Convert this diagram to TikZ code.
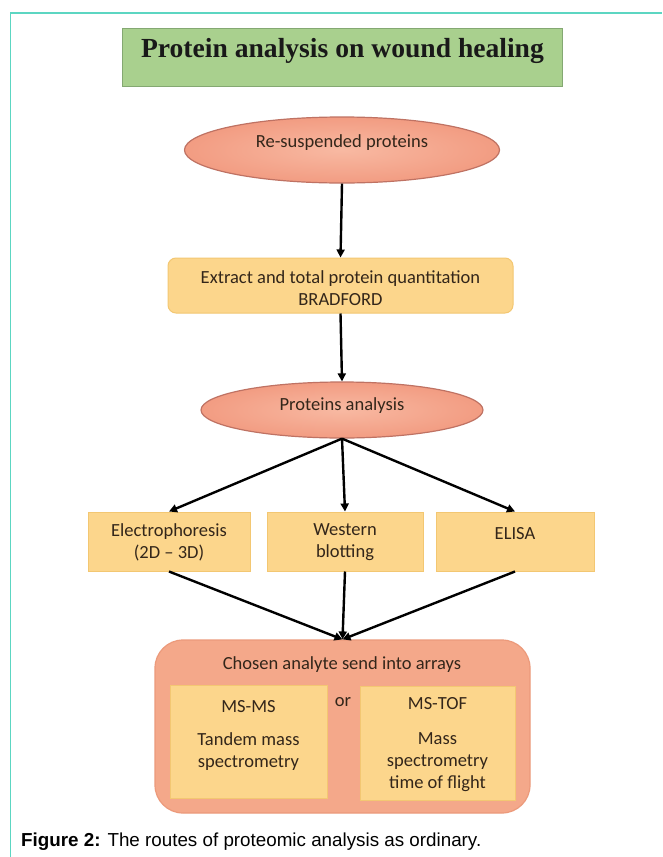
\documentclass[tikz,border=0pt]{standalone}
\usepackage{fontspec}
\setmainfont{Carlito}
\newfontfamily\titlefont{Liberation Serif}
\newfontfamily\capfont{Liberation Sans}
\usetikzlibrary{shapes.geometric,arrows.meta}
\definecolor{framecol}{HTML}{5CD6C2}
\definecolor{titlefill}{HTML}{A9D08E}
\definecolor{titledraw}{HTML}{84A872}
\definecolor{ellin}{HTML}{F8B9A2}
\definecolor{ellout}{HTML}{F29C82}
\definecolor{elldraw}{HTML}{BF7263}
\definecolor{boxfill}{HTML}{FCD68C}
\definecolor{boxdraw}{HTML}{F3C772}
\definecolor{bigfill}{HTML}{F4A88A}
\definecolor{bigdraw}{HTML}{EC9A7B}
\definecolor{txt}{HTML}{33261A}
\begin{document}
\begin{tikzpicture}[x=1pt,y=-1pt,
  btext/.style={font=\fontsize{18.5}{22}\selectfont, text=txt, align=center, inner sep=0pt},
  ellnode/.style={ellipse, draw=elldraw, line width=1.2pt, inner color=ellin, outer color=ellout, inner sep=0pt},
  boxnode/.style={rectangle, draw=boxdraw, line width=1pt, fill=boxfill, inner sep=0pt},
  arr/.style={line width=2.4pt, -{Triangle[length=8pt,width=8pt]}}
]
\useasboundingbox (0,0) rectangle (662,857);
\fill[white] (0,0) rectangle (662,857);
% frame
\draw[framecol, line width=1.5pt] (10.5,857) -- (10.5,13) -- (662,13);

% title
\node[rectangle, draw=titledraw, line width=1pt, fill=titlefill, minimum width=440pt, minimum height=58pt] (title) at (342.5,57) {};
\node[font=\titlefont\bfseries\fontsize{27.6}{32}\selectfont, text=black!90, inner sep=0pt, anchor=base] (titletext) at (342.5,57) {Protein analysis on wound healing};

% ellipse 1
\node[ellnode, minimum width=315pt, minimum height=66pt] (e1) at (342,150) {};
\node[btext] (e1text) at (342,143) {Re-suspended proteins};

% box 2
\node[boxnode, rounded corners=8pt, minimum width=345pt, minimum height=55pt] (b2) at (340.5,285.5) {};
\node[btext] (b2text) at (340.5,288) {Extract and total protein quantitation\\BRADFORD};

% ellipse 2
\node[ellnode, minimum width=282pt, minimum height=56pt] (e2) at (342,410) {};
\node[btext] (e2text) at (342,406) {Proteins analysis};

% three boxes
\node[boxnode, minimum width=162pt, minimum height=59pt] (bl) at (169,541.5) {};
\node[btext] (bltext) at (169,542) {Electrophoresis\\(2D -- 3D)};
\node[boxnode, minimum width=156pt, minimum height=59pt] (bm) at (345,541.5) {};
\node[btext] (bmtext) at (345,542) {Western\\blotting};
\node[boxnode, minimum width=158pt, minimum height=59pt] (br) at (515,541.5) {};
\node[btext] (brtext) at (515,534) {ELISA};

% big box
\node[rectangle, rounded corners=28pt, draw=bigdraw, line width=1.2pt, fill=bigfill, minimum width=375pt, minimum height=173pt] (big) at (342.5,726.5) {};
\node[btext] (chosen) at (342,665) {Chosen analyte send into arrays};
\node[boxnode, minimum width=157pt, minimum height=113pt] (in1) at (248.5,741.5) {};
\node[boxnode, minimum width=155pt, minimum height=114pt] (in2) at (437.5,743) {};
\node[btext] (ortext) at (343,702) {or};
\node[btext] (ms1) at (248.5,707) {MS-MS};
\node[btext] (ms1b) at (248.5,752) {Tandem mass\\spectrometry};
\node[btext] (ms2) at (437.5,704) {MS-TOF};
\node[btext] (ms2b) at (437.5,762) {Mass\\spectrometry\\time of flight};

% arrows
\draw[arr] (e1.south) -- (b2.north);
\draw[arr] (b2.south) -- (e2.north);
\draw[arr] (e2.south) -- (bl.north);
\draw[arr] (e2.south) -- (bm.north);
\draw[arr] (e2.south) -- (br.north);
\draw[arr] (bl.south) -- (big.north);
\draw[arr] (bm.south) -- (big.north);
\draw[arr] (br.south) -- (big.north);

% caption
\node[font=\capfont\fontsize{18.8}{22}\selectfont, anchor=west, inner sep=0pt] (caption) at (21,842) {\textbf{Figure 2:} The routes of proteomic analysis as ordinary.};
\end{tikzpicture}
\end{document}
